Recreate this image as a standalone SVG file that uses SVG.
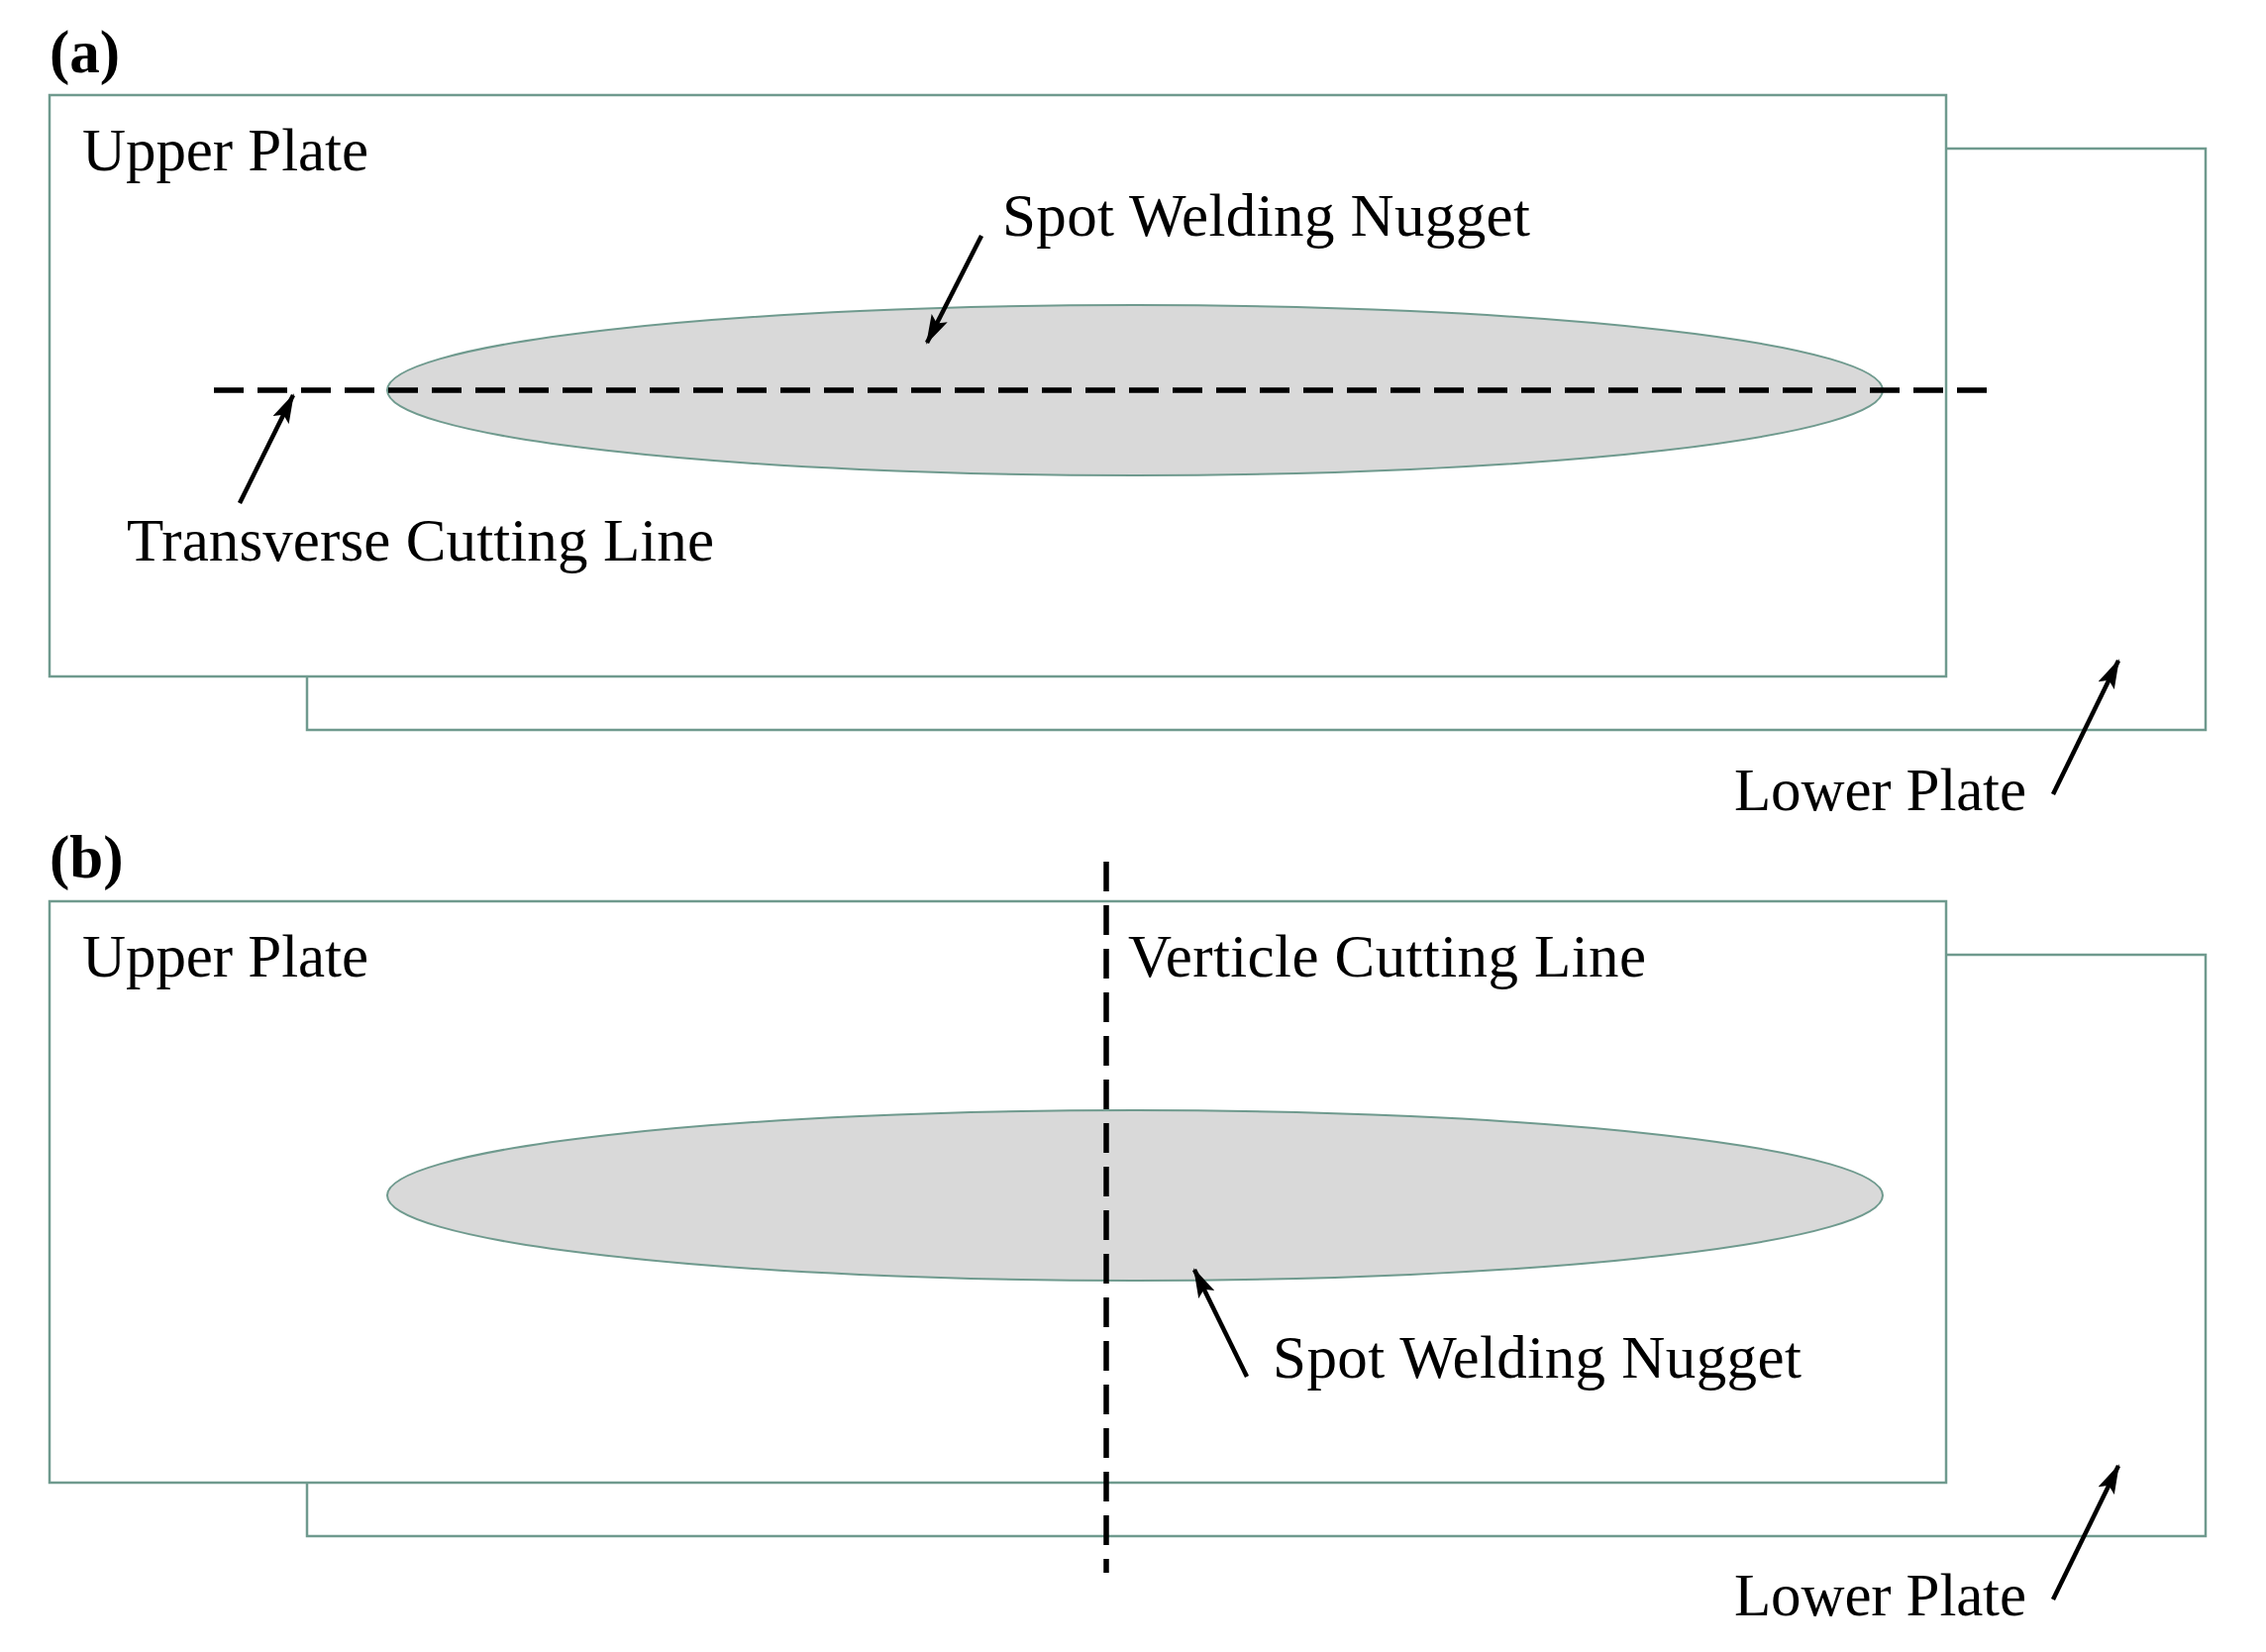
<svg xmlns="http://www.w3.org/2000/svg" width="2288" height="1668" viewBox="0 0 2288 1668">
<defs>
<marker id="ah" markerWidth="30" markerHeight="18" refX="28" refY="9" orient="auto" markerUnits="userSpaceOnUse" viewBox="0 0 30 18"><path d="M0,0 L30,9 L0,18 L6,9 z" fill="#000"/></marker>
<style>
.plate{fill:#fff;stroke:#6f9a8e;stroke-width:2.5}
.nug{fill:#d9d9d9;stroke:#6f9a8e;stroke-width:2}
.cut{stroke:#000;stroke-width:5.5;stroke-dasharray:30 14;fill:none}
.arr{stroke:#000;stroke-width:4.5;fill:none}
text{font-family:"Liberation Serif","Times New Roman",serif;font-size:61px;fill:#000}
.lab{font-weight:bold}
</style>
</defs>
<rect width="2288" height="1668" fill="#fff"/>
<g id="panel-a">
<g id="lower-a"><path class="plate" d="M1965,150 H2227 V737 H310 V683"/></g>
<g id="upper-a"><rect class="plate" x="50" y="96" width="1915" height="587"/></g>
<g id="nugget-a"><ellipse class="nug" cx="1146" cy="394" rx="755" ry="86"/></g>
<text class="lab" x="50" y="73">(a)</text>
<text x="83" y="172" textLength="289">Upper Plate</text>
<text x="1012" y="238" textLength="533">Spot Welding Nugget</text>
<text x="128" y="566" textLength="593">Transverse Cutting Line</text>
<text x="1751" y="818" textLength="295">Lower Plate</text>
</g>
<g id="panel-b">
<g id="lower-b"><path class="plate" d="M1965,964 H2227 V1551 H310 V1497"/></g>
<g id="upper-b"><rect class="plate" x="50" y="910" width="1915" height="587"/></g>
<g id="nugget-b"><ellipse class="nug" cx="1146" cy="1207" rx="755" ry="86"/></g>
<text class="lab" x="50" y="886">(b)</text>
<text x="83" y="986" textLength="289">Upper Plate</text>
<text x="1139" y="986" textLength="523">Verticle Cutting Line</text>
<text x="1285" y="1391" textLength="534">Spot Welding Nugget</text>
<text x="1751" y="1631" textLength="295">Lower Plate</text>
</g>
<g id="connectors">
<line class="cut" x1="216" y1="394" x2="2018" y2="394"/>
<line class="cut" x1="1117" y1="870" x2="1117" y2="1588"/>
<line class="arr" marker-end="url(#ah)" x1="991" y1="238" x2="936" y2="346"/>
<line class="arr" marker-end="url(#ah)" x1="242" y1="508" x2="296" y2="399"/>
<line class="arr" marker-end="url(#ah)" x1="2073" y1="802" x2="2139" y2="667"/>
<line class="arr" marker-end="url(#ah)" x1="1259" y1="1390" x2="1206" y2="1282"/>
<line class="arr" marker-end="url(#ah)" x1="2073" y1="1615" x2="2139" y2="1480"/>
</g>
</svg>
